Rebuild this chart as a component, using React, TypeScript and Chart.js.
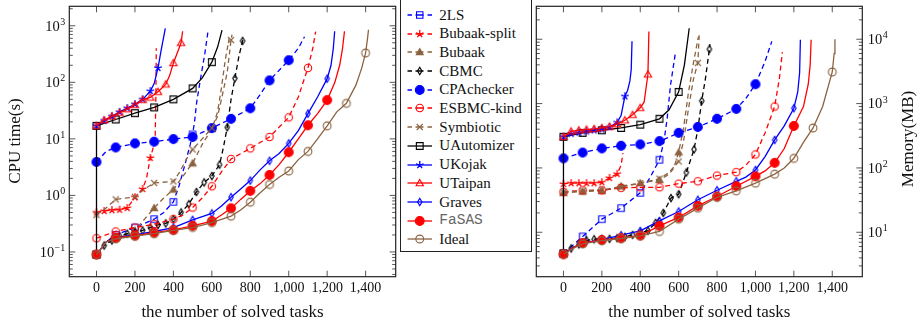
import React, { useEffect, useRef } from "react";
import { Chart, registerables } from "chart.js";

Chart.register(...registerables);

type Pt = [number, number];

// ---------- axis ticks & titles ----------
const X_TICKS = [0, 200, 400, 600, 800, 1000, 1200, 1400];
const X_TICK_LABELS = ["0", "200", "400", "600", "800", "1,000", "1,200", "1,400"];
const CPU_EXPONENTS = [-1, 0, 1, 2, 3];
const MEM_EXPONENTS = [1, 2, 3, 4];
const X_TITLE = "the number of solved tasks";
const CPU_TITLE = "CPU time(s)";
const MEM_TITLE = "Memory(MB)";

const SERIES_NAMES = [
  "2LS", "Bubaak-split", "Bubaak", "CBMC", "CPAchecker", "ESBMC-kind", "Symbiotic",
  "UAutomizer", "UKojak", "UTaipan", "Graves", "FaSAS", "Ideal",
];

// ---------- CPU time (s): [solved tasks, time] ----------
const cpu2LS: Pt[] = [[0, 0.09], [50, 0.15], [100, 0.2], [200, 0.27], [300, 0.38], [350, 0.5], [400, 0.77], [430, 1.5], [460, 3.5], [487, 7.8], [500, 12], [510, 20], [521, 44], [540, 110], [564, 330], [581, 840]];
const cpuBubaakSplit: Pt[] = [[0, 0.5], [40, 0.53], [80, 0.55], [120, 0.56], [160, 0.6], [200, 0.93], [240, 1.3], [260, 2], [280, 4.6], [295, 7], [305, 9], [309, 60], [311, 400]];
const cpuBubaak: Pt[] = [[0, 0.09], [50, 0.14], [100, 0.18], [150, 0.2], [200, 0.24], [250, 0.38], [300, 0.6], [350, 0.9], [400, 1.27], [450, 2.2], [500, 3.7], [550, 8], [600, 15], [630, 30], [650, 80], [670, 250], [690, 600]];
const cpuCBMC: Pt[] = [[0, 0.09], [40, 0.13], [80, 0.16], [120, 0.19], [160, 0.21], [200, 0.22], [240, 0.24], [280, 0.27], [320, 0.3], [360, 0.32], [400, 0.38], [440, 0.5], [480, 0.7], [520, 1.15], [560, 1.7], [600, 2.2], [640, 3.5], [660, 7], [680, 16], [700, 50], [720, 118], [740, 280], [760, 540], [762, 600]];
const cpuCPAchecker: Pt[] = [[0, 3.9], [50, 6], [100, 7.05], [200, 8.3], [300, 8.9], [400, 9.9], [500, 10.8], [550, 13], [600, 15.5], [700, 22.6], [800, 34.7], [850, 60], [900, 108], [1000, 246], [1050, 400], [1082, 640]];
const cpuESBMC: Pt[] = [[0, 0.175], [100, 0.23], [200, 0.27], [300, 0.31], [400, 0.38], [450, 0.45], [500, 0.61], [550, 0.9], [600, 1.45], [650, 2.6], [700, 4.4], [800, 6.8], [900, 10.8], [1000, 24], [1050, 55], [1100, 180], [1125, 400], [1140, 790]];
const cpuSymbiotic: Pt[] = [[0, 0.45], [50, 0.6], [100, 0.85], [200, 0.94], [250, 1.3], [300, 1.66], [400, 1.77], [430, 2.5], [470, 4.5], [500, 6.5], [550, 10], [600, 15.5], [630, 25], [650, 50], [680, 150], [700, 560], [705, 700]];
const cpuUAutomizer: Pt[] = [[0, 0.09], [0, 17], [100, 22], [200, 28.5], [300, 36], [400, 50], [500, 78], [550, 120], [600, 227], [630, 420], [653, 840]];
const cpuUKojak: Pt[] = [[0, 17], [40, 21], [80, 25], [120, 30], [160, 35], [200, 41], [240, 50], [280, 70], [300, 95], [320, 180], [335, 350], [350, 650], [358, 900]];
const cpuUTaipan: Pt[] = [[0, 17], [40, 21.5], [80, 25], [120, 29], [160, 33.5], [200, 40], [240, 49], [280, 54], [320, 68], [360, 92], [380, 130], [400, 220], [420, 330], [440, 500], [448, 800]];
const cpuGraves: Pt[] = [[0, 0.09], [50, 0.15], [100, 0.18], [200, 0.2], [300, 0.23], [400, 0.27], [500, 0.37], [600, 0.48], [650, 0.65], [700, 0.93], [750, 1.3], [800, 1.83], [850, 2.8], [900, 4.1], [950, 5.5], [1000, 8.3], [1050, 14], [1100, 28], [1150, 55], [1200, 116], [1220, 200], [1232, 400], [1239, 800]];
const cpuFaSAS: Pt[] = [[0, 0.09], [50, 0.15], [100, 0.178], [200, 0.195], [300, 0.22], [400, 0.245], [500, 0.29], [600, 0.35], [650, 0.45], [700, 0.59], [750, 0.85], [800, 1.2], [850, 1.6], [900, 2.3], [950, 3.5], [1000, 5.8], [1050, 10], [1100, 17.4], [1150, 28], [1200, 48.5], [1240, 100], [1265, 200], [1280, 400], [1290, 800]];
const cpuIdeal: Pt[] = [[0, 0.09], [50, 0.15], [100, 0.17], [200, 0.19], [300, 0.21], [400, 0.24], [500, 0.27], [600, 0.33], [700, 0.43], [750, 0.55], [800, 0.76], [850, 1.1], [900, 1.56], [950, 2.1], [1000, 2.7], [1050, 4.3], [1100, 6], [1150, 10], [1200, 17], [1250, 30], [1300, 42.5], [1350, 90], [1380, 180], [1400, 330], [1410, 600], [1415, 850]];

// ---------- Memory (MB): [solved tasks, memory] ----------
const mem2LS: Pt[] = [[0, 4.66], [100, 8.6], [200, 16], [300, 23.7], [400, 41], [450, 70], [500, 134], [523, 255], [540, 580], [557, 1890], [583, 6120]];
const memBubaakSplit: Pt[] = [[0, 56.5], [40, 58], [80, 58], [120, 58], [160, 58], [200, 60], [240, 70], [280, 81], [300, 110], [310, 170]];
const memBubaak: Pt[] = [[0, 41], [100, 43], [200, 44], [300, 52], [400, 58], [500, 65], [550, 80], [575, 100], [600, 175], [625, 408], [651, 1490], [677, 4300], [703, 11000]];
const memCBMC: Pt[] = [[0, 4.66], [40, 5.6], [80, 6.5], [120, 7.5], [160, 7.8], [200, 7.9], [240, 7.9], [280, 8.1], [320, 8.5], [360, 9.1], [400, 9.8], [440, 10.6], [480, 14], [520, 20], [560, 34], [600, 39], [640, 85], [680, 194], [700, 400], [720, 1100], [740, 2500], [760, 7000], [763, 8400]];
const memCPAchecker: Pt[] = [[0, 141], [100, 173], [200, 201], [300, 221], [400, 232], [500, 261], [550, 300], [600, 351], [700, 433], [800, 580], [900, 826], [950, 1200], [1000, 2000], [1050, 4500], [1085, 9250]];
const memESBMC: Pt[] = [[0, 42.5], [100, 44.8], [200, 44.8], [300, 49], [400, 50], [500, 50], [600, 57], [700, 62], [800, 76], [900, 86], [950, 110], [1000, 162], [1050, 350], [1100, 900], [1125, 2500], [1140, 6300]];
const memSymbiotic: Pt[] = [[0, 42.5], [100, 44], [200, 46], [300, 50], [400, 58], [500, 68], [550, 85], [600, 126], [625, 256], [651, 826], [677, 2400], [700, 4300], [707, 11700]];
const memUAutomizer: Pt[] = [[0, 4.7], [0, 305], [100, 351], [200, 385], [300, 418], [400, 470], [500, 580], [550, 800], [600, 1520], [630, 4000], [655, 14800]];
const memUKojak: Pt[] = [[0, 305], [40, 340], [80, 355], [120, 370], [160, 385], [200, 400], [240, 430], [280, 510], [300, 650], [320, 1300], [334, 1600], [346, 2250], [353, 3400], [357, 9300]];
const memUTaipan: Pt[] = [[0, 305], [40, 370], [80, 385], [120, 395], [160, 405], [200, 420], [240, 440], [280, 480], [320, 550], [360, 670], [400, 860], [420, 1050], [440, 2850], [445, 13200]];
const memGraves: Pt[] = [[0, 4.66], [50, 5.8], [100, 6.8], [200, 7.7], [300, 9], [400, 10.5], [500, 15], [600, 21], [700, 32], [800, 45], [900, 62], [950, 72], [1000, 93], [1050, 150], [1100, 272], [1150, 450], [1200, 848], [1220, 1500], [1230, 3000], [1234, 9800]];
const memFaSAS: Pt[] = [[0, 4.55], [50, 5.8], [100, 6.8], [200, 7.6], [300, 8.1], [400, 8.9], [500, 12.6], [600, 17], [700, 25.7], [800, 36], [900, 52], [1000, 74], [1050, 90], [1100, 120], [1150, 200], [1200, 449], [1250, 900], [1275, 2000], [1285, 4000], [1290, 9800]];
const memIdeal: Pt[] = [[0, 4.55], [50, 5.6], [100, 6.6], [200, 7.4], [300, 8], [400, 8.8], [500, 10.3], [600, 16], [700, 23.7], [800, 35], [900, 44], [1000, 58], [1100, 80], [1150, 100], [1200, 141], [1250, 250], [1300, 418], [1350, 900], [1400, 3100], [1410, 6000], [1414, 10000]];

const CPU_DATA: Pt[][] = [cpu2LS, cpuBubaakSplit, cpuBubaak, cpuCBMC, cpuCPAchecker, cpuESBMC, cpuSymbiotic, cpuUAutomizer, cpuUKojak, cpuUTaipan, cpuGraves, cpuFaSAS, cpuIdeal];
const MEM_DATA: Pt[][] = [mem2LS, memBubaakSplit, memBubaak, memCBMC, memCPAchecker, memESBMC, memSymbiotic, memUAutomizer, memUKojak, memUTaipan, memGraves, memFaSAS, memIdeal];

// ---------- styles ----------
const BLUE = "#0000ff";
const RED = "#ff0000";
const BROWN = "#8b6340";
const BLACK = "#000000";
const SERIF = '"Liberation Serif", "DejaVu Serif", serif';
const MONO = '"Liberation Mono", "DejaVu Sans Mono", monospace';

type Marker = "square" | "star" | "triangle" | "diamond" | "circle" | "cross";
interface Style { color: string; dashed: boolean; marker: Marker; filled: boolean; size: number; every: number; }

const STYLES: Style[] = [
  { color: BLUE, dashed: true, marker: "square", filled: false, size: 3.2, every: 100 },
  { color: RED, dashed: true, marker: "star", filled: false, size: 4, every: 40 },
  { color: BROWN, dashed: true, marker: "triangle", filled: true, size: 4, every: 100 },
  { color: BLACK, dashed: true, marker: "diamond", filled: false, size: 3.6, every: 40 },
  { color: BLUE, dashed: true, marker: "circle", filled: true, size: 4.4, every: 100 },
  { color: RED, dashed: true, marker: "circle", filled: false, size: 3.7, every: 100 },
  { color: BROWN, dashed: true, marker: "cross", filled: false, size: 3, every: 100 },
  { color: BLACK, dashed: false, marker: "square", filled: false, size: 3.4, every: 100 },
  { color: BLUE, dashed: false, marker: "star", filled: false, size: 4, every: 40 },
  { color: RED, dashed: false, marker: "triangle", filled: false, size: 4.2, every: 40 },
  { color: BLUE, dashed: false, marker: "diamond", filled: false, size: 3.6, every: 100 },
  { color: RED, dashed: false, marker: "circle", filled: true, size: 4.4, every: 100 },
  { color: BROWN, dashed: false, marker: "circle", filled: false, size: 3.9, every: 100 },
];

function drawMarker(ctx: CanvasRenderingContext2D, s: Style, cx: number, cy: number) {
  const r = s.size;
  ctx.save();
  ctx.setLineDash([]);
  ctx.strokeStyle = s.color;
  ctx.fillStyle = s.color;
  ctx.lineWidth = s.marker === "star" ? 1.3 : 1.1;
  ctx.beginPath();
  switch (s.marker) {
    case "square":
      ctx.rect(cx - r, cy - r, 2 * r, 2 * r);
      break;
    case "circle":
      ctx.arc(cx, cy, r, 0, Math.PI * 2);
      break;
    case "triangle":
      for (let k = 0; k < 3; k++) {
        const a = (-90 + 120 * k) * Math.PI / 180;
        const px = cx + r * Math.cos(a), py = cy + r * Math.sin(a) + 0.6;
        if (k === 0) ctx.moveTo(px, py); else ctx.lineTo(px, py);
      }
      ctx.closePath();
      break;
    case "diamond":
      ctx.moveTo(cx, cy - r);
      ctx.lineTo(cx + 0.62 * r, cy);
      ctx.lineTo(cx, cy + r);
      ctx.lineTo(cx - 0.62 * r, cy);
      ctx.closePath();
      break;
    case "star":
      for (let k = 0; k < 5; k++) {
        const a = (-90 + 72 * k) * Math.PI / 180;
        ctx.moveTo(cx, cy);
        ctx.lineTo(cx + r * Math.cos(a), cy + r * Math.sin(a));
      }
      break;
    case "cross":
      ctx.moveTo(cx - r, cy - r); ctx.lineTo(cx + r, cy + r);
      ctx.moveTo(cx + r, cy - r); ctx.lineTo(cx - r, cy + r);
      break;
  }
  if (s.filled) ctx.fill();
  ctx.stroke();
  ctx.restore();
}

function markerCanvas(s: Style): HTMLCanvasElement {
  const c = document.createElement("canvas");
  c.width = 16;
  c.height = 16;
  const ctx = c.getContext("2d")!;
  drawMarker(ctx, s, 8, 8);
  return c;
}

interface PlotCfg {
  data: Pt[][];
  yMin: number;
  yMax: number;
  exps: number[];
  labelsRight: boolean;
  title: string;
  titleX: number;
  titleY: number;
  padding: { left: number; right: number; top: number; bottom: number };
}

function axesPlugin(cfg: PlotCfg) {
  return {
    id: "pgfAxes",
    beforeDatasetsDraw(chart: any) {
      const { ctx, chartArea: a } = chart;
      const xs = chart.scales.x;
      const ys = chart.scales.y;
      ctx.save();
      // tick marks (inward)
      ctx.strokeStyle = "#444";
      ctx.lineWidth = 0.9;
      ctx.beginPath();
      for (const v of X_TICKS) {
        const px = xs.getPixelForValue(v);
        ctx.moveTo(px, a.bottom); ctx.lineTo(px, a.bottom - 6);
        ctx.moveTo(px, a.top); ctx.lineTo(px, a.top + 6);
      }
      const lo = Math.floor(Math.log10(ys.min));
      const hi = Math.ceil(Math.log10(ys.max));
      for (let e = lo; e <= hi; e++) {
        for (let k = 1; k <= 9; k++) {
          const v = k * Math.pow(10, e);
          if (v <= ys.min || v >= ys.max) continue;
          const py = ys.getPixelForValue(v);
          const len = k === 1 ? 6 : 3.5;
          ctx.moveTo(a.left, py); ctx.lineTo(a.left + len, py);
          ctx.moveTo(a.right, py); ctx.lineTo(a.right - len, py);
        }
      }
      ctx.stroke();
      // frame
      ctx.strokeStyle = "#222";
      ctx.lineWidth = 1.2;
      ctx.strokeRect(a.left, a.top, a.right - a.left, a.bottom - a.top);
      // x tick labels
      ctx.fillStyle = "#111";
      ctx.font = `14px ${SERIF}`;
      ctx.textAlign = "center";
      ctx.textBaseline = "alphabetic";
      X_TICKS.forEach((v, i) => {
        ctx.fillText(X_TICK_LABELS[i], xs.getPixelForValue(v), a.bottom + 15.3);
      });
      // x title
      ctx.font = `17px ${SERIF}`;
      ctx.fillText(X_TITLE, (a.left + a.right) / 2, a.bottom + 40);
      // y tick labels 10^e
      ctx.textAlign = "left";
      for (const e of cfg.exps) {
        const py = ys.getPixelForValue(Math.pow(10, e));
        const expStr = e < 0 ? "\u2212" + String(-e) : String(e);
        ctx.font = `14.5px ${SERIF}`;
        const w10 = ctx.measureText("10").width;
        ctx.font = `10px ${SERIF}`;
        const we = ctx.measureText(expStr).width;
        const x0 = cfg.labelsRight ? a.right + 5.5 : a.left - 4.5 - we - w10;
        ctx.font = `14.5px ${SERIF}`;
        ctx.fillText("10", x0, py + 4.8);
        ctx.font = `10px ${SERIF}`;
        ctx.fillText(expStr, x0 + w10 + 0.4, py - 1);
      }
      // y title
      ctx.save();
      ctx.translate(cfg.titleX, cfg.titleY);
      ctx.rotate(-Math.PI / 2);
      ctx.textAlign = "center";
      ctx.textBaseline = "middle";
      ctx.font = `17px ${SERIF}`;
      ctx.fillText(cfg.title, 0, 0);
      ctx.restore();
      ctx.restore();
    },
  };
}

function makeChart(canvas: HTMLCanvasElement, cfg: PlotCfg) {
  const datasets = STYLES.map((s, i) => ({
    label: SERIES_NAMES[i],
    data: cfg.data[i].map(([x, y]) => ({ x, y })),
    borderColor: s.color,
    backgroundColor: s.color,
    borderWidth: 1.3,
    borderDash: s.dashed ? [5, 3.5] : [],
    pointStyle: markerCanvas(s),
    pointRadius: (c: any) => (c.raw && c.raw.x % s.every === 0 ? 5 : 0),
    pointHoverRadius: 0,
    pointHitRadius: 0,
    fill: false,
    tension: 0,
    order: STYLES.length - i,
  }));
  return new Chart(canvas, {
    type: "line",
    data: { datasets } as any,
    options: {
      animation: false,
      responsive: false,
      events: [],
      layout: { padding: cfg.padding },
      scales: {
        x: { type: "linear", min: -141.5, max: 1556.5, display: false },
        y: { type: "logarithmic", min: cfg.yMin, max: cfg.yMax, display: false },
      },
      plugins: { legend: { display: false }, tooltip: { enabled: false } },
    } as any,
    plugins: [axesPlugin(cfg) as any],
  });
}

function LegendSymbol({ s }: { s: Style }) {
  const ref = useRef<HTMLCanvasElement>(null);
  useEffect(() => {
    const c = ref.current;
    if (!c) return;
    const ctx = c.getContext("2d")!;
    ctx.clearRect(0, 0, c.width, c.height);
    ctx.strokeStyle = s.color;
    ctx.lineWidth = 1.3;
    const y = 6;
    const segs = s.dashed ? [[0.5, 5], [8.5, 16.5], [20.5, 25]] : [[0.5, 25]];
    ctx.beginPath();
    for (const [a, b] of segs) { ctx.moveTo(a, y); ctx.lineTo(b, y); }
    ctx.stroke();
    drawMarker(ctx, s, 12.75, y);
  }, [s]);
  return <canvas ref={ref} width={26} height={12} style={{ position: "absolute", left: 5.7, top: 3.35 }} />;
}

function Legend() {
  return (
    <div style={{ position: "absolute", left: 400, top: -1, width: 132, height: 253, border: "1px solid #222", boxSizing: "border-box", background: "#fff" }}>
      {SERIES_NAMES.map((name, i) => (
        <div key={name} style={{ position: "absolute", left: 0, top: 5.65 + i * 18.69, width: 130, height: 18.69 }}>
          <LegendSymbol s={STYLES[i]} />
          <span style={{
            position: "absolute", left: 38.3, top: 0, lineHeight: "18.69px", whiteSpace: "nowrap",
            fontFamily: name === "FaSAS" ? MONO : SERIF,
            fontSize: name === "FaSAS" ? 14.5 : 15,
            color: name === "FaSAS" ? "#666" : "#111",
          }}>{name}</span>
        </div>
      ))}
    </div>
  );
}

export default function App() {
  const leftRef = useRef<HTMLCanvasElement>(null);
  const rightRef = useRef<HTMLCanvasElement>(null);
  useEffect(() => {
    const c1 = makeChart(leftRef.current!, {
      data: CPU_DATA, yMin: 0.0365, yMax: 2210, exps: CPU_EXPONENTS, labelsRight: false,
      title: CPU_TITLE, titleX: 16, titleY: 141,
      padding: { left: 69.3, right: 2.7, top: 2.7, bottom: 47.3 },
    });
    const c2 = makeChart(rightRef.current!, {
      data: MEM_DATA, yMin: 2.04, yMax: 32500, exps: MEM_EXPONENTS, labelsRight: true,
      title: MEM_TITLE, titleX: 379, titleY: 139,
      padding: { left: 2.7, right: 57.7, top: 2.7, bottom: 47.3 },
    });
    return () => { c1.destroy(); c2.destroy(); };
  }, []);
  return (
    <div style={{ position: "absolute", left: 0, top: 0, width: 920, height: 324, background: "#fff", overflow: "hidden" }}>
      <canvas ref={leftRef} width={402} height={324} style={{ position: "absolute", left: 0, top: 0, width: 402, height: 324 }} />
      <canvas ref={rightRef} width={390} height={324} style={{ position: "absolute", left: 530, top: 0, width: 390, height: 324 }} />
      <Legend />
    </div>
  );
}
